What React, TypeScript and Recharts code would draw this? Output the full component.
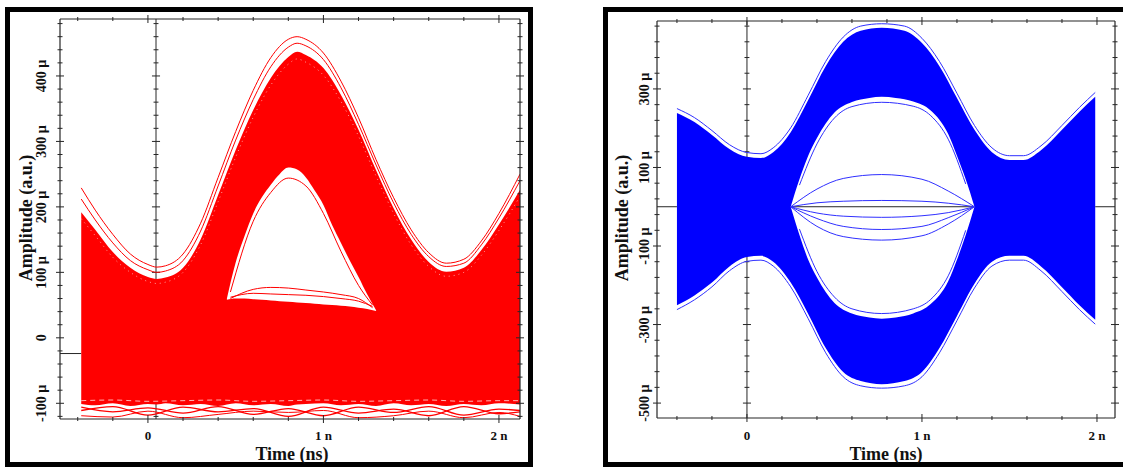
import React from "react";
import { ComposedChart, Area, Line, XAxis, YAxis, ReferenceLine } from "recharts";

const FONT = "'Liberation Serif', 'Times New Roman', serif";
const AX = "#262626";
const RED = "#ff0000";
const BLUE = "#0000ff";
const BLUE_LINE = "#2f2fff";

// ---- shared x ticks (ns) ----
const xTicks = [-0.4, -0.2, 0, 0.2, 0.4, 0.6, 0.8, 1, 1.2, 1.4, 1.6, 1.8, 2];
const xMajor = [0, 1, 2];
const xMajorLabels = ["0", "1 n", "2 n"];

// ---- left panel (red), amplitude in µ ----
const leftYTicks = [-120, -100, -80, -60, -40, -20, 0, 20, 40, 60, 80, 100, 120, 140, 160, 180, 200, 220, 240, 260, 280, 300, 320, 340, 360, 380, 400, 420, 440, 460, 480];
const leftYMajor = [-100, 0, 100, 200, 300, 400];
const leftYLabels = ["-100 µ", "0", "100 µ", "200 µ", "300 µ", "400 µ"];

const redTime = [-0.38, -0.3, -0.2, -0.1, 0, 0.05, 0.1, 0.2, 0.3, 0.4, 0.5, 0.6, 0.7, 0.8, 0.85, 0.9, 1.0, 1.1, 1.2, 1.3, 1.4, 1.5, 1.6, 1.7, 1.8, 1.9, 2.0, 2.12];
const redTop = [192, 165, 131, 107, 93, 90, 92, 107, 150, 218, 287, 348, 397, 429, 437, 432, 412, 371, 318, 256, 198, 150, 116, 101, 107, 134, 173, 226];
const redBottom = [-101, -103, -100, -104, -101, -102, -100, -103, -101, -104, -100, -103, -101, -104, -102, -101, -100, -103, -101, -104, -100, -103, -101, -104, -101, -103, -100, -102];
const redOuterA = [229, 195, 158, 128, 112, 108, 110, 128, 175, 245, 315, 378, 428, 456, 460, 456, 435, 392, 336, 272, 214, 165, 130, 114, 120, 148, 190, 250];
const redOuterB = [212, 180, 145, 118, 104, 100, 102, 118, 163, 232, 302, 364, 414, 444, 450, 446, 425, 382, 326, 264, 206, 158, 124, 109, 114, 142, 183, 240];
const redEdge = [182, 156, 123, 100, 86, 83, 85, 100, 142, 208, 276, 337, 386, 418, 426, 421, 401, 361, 308, 247, 190, 142, 109, 94, 100, 126, 164, 216];

const redHoleTime = [0.45, 0.5, 0.55, 0.6, 0.65, 0.7, 0.75, 0.8, 0.85, 0.9, 0.95, 1.0, 1.05, 1.1, 1.15, 1.2, 1.25, 1.3];
const redHoleTop = [60, 115, 155, 190, 215, 234, 250, 260, 257, 245, 225, 203, 172, 145, 118, 93, 66, 42];
const redHoleBottom = [58, 60, 60, 59, 58, 57, 56, 55, 54, 53, 52, 51, 50, 49, 48, 46, 44, 41];

const redRimTime = [0.47, 0.6, 0.7, 0.8, 0.9, 1.0, 1.1, 1.2, 1.28];
const redRimTop = [70, 178, 222, 244, 232, 190, 132, 80, 50];
const redRimLowA = [62, 68, 67, 66, 65, 63, 60, 56, 48];
const redRimLowB = [60, 74, 77, 76, 73, 70, 66, 60, 46];

const redLowTime = [-0.38, -0.2, 0, 0.2, 0.4, 0.6, 0.8, 1.0, 1.2, 1.4, 1.6, 1.8, 2.0, 2.12];
const redLowA = [-106, -113, -107, -115, -105, -117, -108, -119, -106, -114, -105, -118, -109, -111];
const redLowB = [-111, -105, -118, -106, -113, -108, -120, -106, -115, -109, -119, -105, -116, -113];
const redLowC = [-119, -121, -112, -122, -117, -112, -114, -111, -122, -119, -112, -122, -114, -120];
const redLowWhite = [-96, -95, -97, -96, -95, -97, -96, -95, -97, -96, -95, -97, -96, -96];

// ---- right panel (blue) ----
const rightYTicks = [-500, -460, -420, -380, -340, -300, -260, -220, -180, -140, -100, -60, -20, 20, 60, 100, 140, 180, 220, 260, 300, 340, 380, 420, 460];
const rightYMajor = [-500, -300, -100, 100, 300];
const rightYLabels = ["-500 µ", "-300 µ", "-100 µ", "100 µ", "300 µ"];

const blueTime = [-0.4, -0.3, -0.2, -0.1, 0, 0.08, 0.15, 0.25, 0.35, 0.45, 0.55, 0.65, 0.77, 0.9, 1.0, 1.1, 1.2, 1.3, 1.4, 1.5, 1.58, 1.68, 1.8, 1.9, 1.99];
const blueTop = [239, 216, 183, 147, 127, 124, 139, 190, 272, 358, 420, 448, 456, 448, 417, 358, 277, 196, 139, 119, 119, 144, 196, 242, 280];
const blueBottom = [-251, -226, -193, -152, -128, -125, -140, -193, -273, -360, -421, -444, -452, -444, -421, -360, -278, -196, -140, -125, -125, -152, -205, -251, -288];
const blueOuterTop = [250, 227, 194, 158, 138, 135, 150, 201, 284, 370, 432, 460, 466, 460, 429, 370, 289, 207, 150, 130, 130, 155, 207, 253, 291];
const blueOuterBottom = [-262, -237, -204, -163, -139, -136, -151, -204, -285, -372, -433, -456, -462, -456, -433, -372, -290, -207, -151, -136, -136, -163, -216, -262, -299];

const blueEyeTime = [0.25, 0.3, 0.35, 0.4, 0.5, 0.6, 0.7, 0.77, 0.85, 0.95, 1.05, 1.15, 1.2, 1.25, 1.3];
const blueEyeTop = [0, 70, 130, 175, 240, 267, 277, 280, 277, 268, 245, 185, 130, 70, 0];
const blueEyeBottom = [0, -72, -135, -180, -245, -272, -282, -285, -282, -272, -248, -190, -135, -72, 0];

const blueInTime = [0.25, 0.4, 0.55, 0.77, 1.0, 1.15, 1.3];
const blueInA = [0, 45, 72, 82, 70, 40, 0];
const blueInB = [0, 10, 14, 16, 14, 9, 0];
const blueInC = [0, -16, -24, -27, -23, -15, 0];
const blueInD = [0, -30, -50, -58, -50, -28, 0];
const blueInE = [0, -50, -76, -85, -74, -44, 0];

const blueRimTime = [0.3, 0.4, 0.5, 0.6, 0.77, 0.95, 1.05, 1.15, 1.25];
const blueRimTop = [55, 160, 226, 255, 266, 256, 232, 172, 58];
const blueRimBottom = [-57, -165, -230, -260, -272, -260, -236, -176, -60];

// ---- tables ----
const redTable = redTime.map((t, i) => ({
  t,
  band: [redBottom[i], redTop[i]],
  outerA: redOuterA[i],
  outerB: redOuterB[i],
  edge: redEdge[i],
}));
const redHoleTable = redHoleTime.map((t, i) => ({ t, hole: [redHoleBottom[i], redHoleTop[i]] }));
const redRimTable = redRimTime.map((t, i) => ({ t, top: redRimTop[i], lowA: redRimLowA[i], lowB: redRimLowB[i] }));
const redLowTable = redLowTime.map((t, i) => ({ t, a: redLowA[i], b: redLowB[i], c: redLowC[i], w: redLowWhite[i] }));

const blueTable = blueTime.map((t, i) => ({
  t,
  band: [blueBottom[i], blueTop[i]],
  outerTop: blueOuterTop[i],
  outerBottom: blueOuterBottom[i],
}));
const blueEyeTable = blueEyeTime.map((t, i) => ({ t, eye: [blueEyeBottom[i], blueEyeTop[i]] }));
const blueInTable = blueInTime.map((t, i) => ({ t, a: blueInA[i], b: blueInB[i], c: blueInC[i], d: blueInD[i], e: blueInE[i] }));
const blueRimTable = blueRimTime.map((t, i) => ({ t, top: blueRimTop[i], bottom: blueRimBottom[i] }));

// ---- ticks ----
function xTick(withLabels: boolean, dy: number) {
  return (p: any) => {
    const v = p.payload.value;
    const k = xMajor.indexOf(v);
    const len = k >= 0 ? 4 : 2;
    return (
      <g>
        <line x1={p.x} x2={p.x} y1={p.y - len} y2={p.y + len} stroke={AX} strokeWidth={1} />
        {withLabels && k >= 0 && (
          <text x={p.x} y={p.y + dy} textAnchor="middle" dominantBaseline="central" fontFamily={FONT} fontWeight="bold" fontSize={13} fill="#111">
            {xMajorLabels[k]}
          </text>
        )}
      </g>
    );
  };
}

function yTick(majors: number[], labels: string[] | null, dx: number) {
  return (p: any) => {
    const v = p.payload.value;
    const k = majors.indexOf(v);
    const len = k >= 0 ? 4 : 2.5;
    const lx = p.x + dx;
    return (
      <g>
        <line x1={p.x - len} x2={p.x + len} y1={p.y} y2={p.y} stroke={AX} strokeWidth={1} />
        {labels && k >= 0 && (
          <text x={lx} y={p.y} transform={`rotate(-90 ${lx} ${p.y})`} textAnchor="middle" dominantBaseline="central" fontFamily={FONT} fontWeight="bold" fontSize={14} fill="#111">
            {labels[k]}
          </text>
        )}
      </g>
    );
  };
}

// small cross marks along the inner vertical marker line
function markerTicks(x0: number, ticks: number[], majors: number[], halfMajor: number, halfMinor: number) {
  return ticks.map((v) => {
    const h = majors.includes(v) ? halfMajor : halfMinor;
    return (
      <ReferenceLine
        key={"mk" + v}
        segment={[{ x: x0 - h, y: v }, { x: x0 + h, y: v }]}
        stroke={AX}
        strokeWidth={1}
        zIndex={50}
      />
    );
  });
}

const title: React.CSSProperties = {
  position: "absolute",
  fontFamily: FONT,
  fontWeight: "bold",
  fontSize: 18,
  color: "#111",
  whiteSpace: "nowrap",
  lineHeight: 1,
};

function RedPanel() {
  const xd: [number, number] = [-0.501, 2.12];
  const yd: [number, number] = [-124, 487];
  return (
    <ComposedChart width={530} height={468} data={redTable} margin={{ top: 9, right: 0, bottom: 19, left: 20 }}>
      <XAxis dataKey="t" type="number" domain={xd} allowDataOverflow ticks={xTicks} interval={0} tickSize={0} tickMargin={0} height={30} axisLine={{ stroke: AX, strokeWidth: 1.2 }} tick={xTick(true, 16)} />
      <XAxis xAxisId="top" orientation="top" dataKey="t" type="number" domain={xd} allowDataOverflow ticks={xTicks} interval={0} tickSize={0} tickMargin={0} height={10} axisLine={{ stroke: AX, strokeWidth: 1.2 }} tick={xTick(false, 0)} />
      <YAxis type="number" domain={yd} allowDataOverflow ticks={leftYTicks} interval={0} tickSize={0} tickMargin={0} width={40} axisLine={{ stroke: AX, strokeWidth: 1.2 }} tick={yTick(leftYMajor, leftYLabels, -18)} />
      <YAxis yAxisId="right" orientation="right" type="number" domain={yd} allowDataOverflow ticks={leftYTicks} interval={0} tickSize={0} tickMargin={0} width={10} axisLine={{ stroke: AX, strokeWidth: 1.2 }} tick={yTick(leftYMajor, null, 0)} />

      <ReferenceLine x={0.046} stroke={AX} strokeWidth={1} zIndex={50} />
      {markerTicks(0.046, leftYTicks, leftYMajor, 0.023, 0.014)}
      <ReferenceLine segment={[{ x: -0.501, y: -24 }, { x: -0.38, y: -24 }]} stroke={AX} strokeWidth={1} zIndex={50} />

      <Area dataKey="band" type="monotone" fill={RED} fillOpacity={1} stroke="none" isAnimationActive={false} />
      <Area data={redHoleTable} dataKey="hole" type="monotone" fill="#ffffff" fillOpacity={1} stroke="none" isAnimationActive={false} />
      <Line dataKey="outerA" type="monotone" stroke={RED} strokeWidth={1} dot={false} isAnimationActive={false} />
      <Line dataKey="outerB" type="monotone" stroke={RED} strokeWidth={1} dot={false} isAnimationActive={false} />
      <Line dataKey="edge" type="monotone" stroke="#ffffff" strokeOpacity={0.6} strokeWidth={1} strokeDasharray="1 4" dot={false} isAnimationActive={false} />
      <Line data={redRimTable} dataKey="top" type="monotone" stroke={RED} strokeWidth={1} dot={false} isAnimationActive={false} />
      <Line data={redRimTable} dataKey="lowA" type="monotone" stroke={RED} strokeWidth={1} dot={false} isAnimationActive={false} />
      <Line data={redRimTable} dataKey="lowB" type="monotone" stroke={RED} strokeWidth={1} dot={false} isAnimationActive={false} />
      <Line data={redLowTable} dataKey="w" type="monotone" stroke="#ffffff" strokeOpacity={0.7} strokeWidth={1} strokeDasharray="5 4" dot={false} isAnimationActive={false} />
      <Line data={redLowTable} dataKey="a" type="monotone" stroke={RED} strokeWidth={1.3} dot={false} isAnimationActive={false} />
      <Line data={redLowTable} dataKey="b" type="monotone" stroke={RED} strokeWidth={1.3} dot={false} isAnimationActive={false} />
      <Line data={redLowTable} dataKey="c" type="monotone" stroke={RED} strokeWidth={1} dot={false} isAnimationActive={false} />
    </ComposedChart>
  );
}

function BluePanel() {
  const xd: [number, number] = [-0.514, 2.103];
  const yd: [number, number] = [-538, 473];
  return (
    <ComposedChart width={523} height={468} data={blueTable} margin={{ top: 11, right: 0, bottom: 20, left: 17 }}>
      <XAxis dataKey="t" type="number" domain={xd} allowDataOverflow ticks={xTicks} interval={0} tickSize={0} tickMargin={0} height={30} axisLine={{ stroke: AX, strokeWidth: 1.2 }} tick={xTick(true, 17)} />
      <XAxis xAxisId="top" orientation="top" dataKey="t" type="number" domain={xd} allowDataOverflow ticks={xTicks} interval={0} tickSize={0} tickMargin={0} height={10} axisLine={{ stroke: AX, strokeWidth: 1.2 }} tick={xTick(false, 0)} />
      <YAxis type="number" domain={yd} allowDataOverflow ticks={rightYTicks} interval={0} tickSize={0} tickMargin={0} width={40} axisLine={{ stroke: AX, strokeWidth: 1.2 }} tick={yTick(rightYMajor, rightYLabels, -12)} />
      <YAxis yAxisId="right" orientation="right" type="number" domain={yd} allowDataOverflow ticks={rightYTicks} interval={0} tickSize={0} tickMargin={0} width={8} axisLine={{ stroke: AX, strokeWidth: 1.2 }} tick={yTick(rightYMajor, null, 0)} />

      <ReferenceLine x={0} stroke={AX} strokeWidth={1} zIndex={50} />
      {markerTicks(0, rightYTicks, rightYMajor, 0.023, 0.014)}

      <Area dataKey="band" type="monotone" fill={BLUE} fillOpacity={1} stroke="none" isAnimationActive={false} />
      <Area data={blueEyeTable} dataKey="eye" type="monotone" fill="#ffffff" fillOpacity={1} stroke="none" isAnimationActive={false} />
      <ReferenceLine segment={[{ x: -0.514, y: 0 }, { x: -0.4, y: 0 }]} stroke={AX} strokeWidth={1} zIndex={150} />
      <ReferenceLine segment={[{ x: 0.25, y: 0 }, { x: 1.3, y: 0 }]} stroke={AX} strokeWidth={1} zIndex={150} />
      <ReferenceLine segment={[{ x: 1.99, y: 0 }, { x: 2.103, y: 0 }]} stroke={AX} strokeWidth={1} zIndex={150} />
      <Line dataKey="outerTop" type="monotone" stroke={BLUE_LINE} strokeWidth={1} dot={false} isAnimationActive={false} />
      <Line dataKey="outerBottom" type="monotone" stroke={BLUE_LINE} strokeWidth={1} dot={false} isAnimationActive={false} />
      <Line data={blueRimTable} dataKey="top" type="monotone" stroke={BLUE_LINE} strokeWidth={1} dot={false} isAnimationActive={false} />
      <Line data={blueRimTable} dataKey="bottom" type="monotone" stroke={BLUE_LINE} strokeWidth={1} dot={false} isAnimationActive={false} />
      <Line data={blueInTable} dataKey="a" type="monotone" stroke={BLUE_LINE} strokeWidth={1} dot={false} isAnimationActive={false} />
      <Line data={blueInTable} dataKey="b" type="monotone" stroke={BLUE_LINE} strokeWidth={1} dot={false} isAnimationActive={false} />
      <Line data={blueInTable} dataKey="c" type="monotone" stroke={BLUE_LINE} strokeWidth={1} dot={false} isAnimationActive={false} />
      <Line data={blueInTable} dataKey="d" type="monotone" stroke={BLUE_LINE} strokeWidth={1} dot={false} isAnimationActive={false} />
      <Line data={blueInTable} dataKey="e" type="monotone" stroke={BLUE_LINE} strokeWidth={1} dot={false} isAnimationActive={false} />
    </ComposedChart>
  );
}

export default function App() {
  return (
    <div style={{ position: "absolute", left: 0, top: 0, width: 1123, height: 468, background: "#fff", overflow: "hidden" }}>
      <div style={{ position: "absolute", left: 5, top: 7, width: 528, height: 460, border: "5px solid #000", boxSizing: "border-box" }} />
      <div style={{ position: "absolute", left: 603, top: 7, width: 530, height: 460, border: "5px solid #000", boxSizing: "border-box" }} />

      <div style={{ position: "absolute", left: 0, top: 0 }}>
        <RedPanel />
      </div>
      <div style={{ position: "absolute", left: 600, top: 0 }}>
        <BluePanel />
      </div>

      <div style={{ ...title, left: 26, top: 218, transform: "translate(-50%, -50%) rotate(-90deg)" }}>Amplitude (a.u.)</div>
      <div style={{ ...title, left: 292, top: 454, transform: "translate(-50%, -50%)" }}>Time (ns)</div>
      <div style={{ ...title, left: 622, top: 218, transform: "translate(-50%, -50%) rotate(-90deg)" }}>Amplitude (a.u.)</div>
      <div style={{ ...title, left: 886, top: 454, transform: "translate(-50%, -50%)" }}>Time (ns)</div>
    </div>
  );
}
